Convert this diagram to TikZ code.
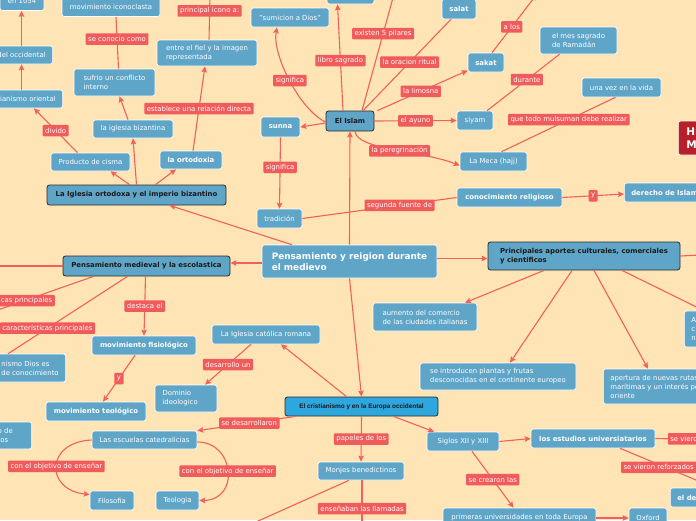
\documentclass[tikz,border=0pt]{standalone}
\usepackage{fontspec}
\setmainfont{DejaVu Sans}
\newfontfamily\arialfont{Liberation Sans}
\usepackage{tikz}
\usetikzlibrary{arrows.meta}
\definecolor{mapbg}{HTML}{FFE4B5}
\definecolor{topicblue}{HTML}{5FA5C8}
\definecolor{tagred}{HTML}{F05B5B}
\definecolor{linkred}{HTML}{F2605E}
\definecolor{mainblue}{HTML}{2EA6DE}
\definecolor{darkred}{HTML}{B71F2B}
\definecolor{edgegray}{HTML}{2A2A2A}
\newcommand{\smalltxt}{\fontsize{6.9}{9}\selectfont}

\begin{document}
\begin{tikzpicture}[x=1pt, y=-1pt,
  boxsize/.style 2 args={minimum width=#1pt, minimum height=#2pt},
  topic/.style={rectangle, rounded corners=2.5pt, fill=topicblue, draw=white, line width=0.6pt,
    text=white, font=\smalltxt, align=left, inner xsep=7pt, inner ysep=2pt},
  topicbold/.style={topic, font=\smalltxt\bfseries},
  branch/.style={topic, draw=edgegray, line width=0.8pt, text=black!90, font=\smalltxt\bfseries},
  tag/.style={rectangle, rounded corners=1pt, fill=tagred, text=white, font=\smalltxt,
    inner xsep=2.5pt, inner ysep=1.5pt, minimum height=11.5pt},
  arrowlink/.style={draw=linkred, line width=1.1pt, -{Stealth[length=6pt, width=5.5pt, inset=1pt]}},
  barelink/.style={draw=linkred, line width=1.1pt}]
  \useasboundingbox (0,0) rectangle (696,520);
  \fill[mapbg] (0,0) rectangle (696,520);
  \clip (0,0) rectangle (696,520);

  % iglesia bizantina
  \node[topic, boxsize={44}{19}] (anio) at (22,1) {en 1054};
  \node[topic, anchor=east, minimum height=18pt] (occid) at (53,55) {del occidental};
  \node[topic, anchor=east, minimum height=18pt] (orient) at (63,99) {ianismo oriental};
  \node[topic, boxsize={98}{19}] (icono) at (111,7) {movimiento iconoclasta};
  \node[topic, boxsize={81}{27}] (conflicto) at (114.5,82.5) {sufrio un conflicto\\interno};
  \node[topic, boxsize={80}{18}] (igbiz) at (133,129) {la iglesia bizantina};
  \node[topic, boxsize={79}{18}] (cisma) at (90.5,162) {Producto de cisma};
  \node[topicbold, boxsize={62}{18}] (orto) at (191,160) {la ortodoxia};
  \node[topic, boxsize={100}{26}] (fiel) at (207,53) {entre el fiel y la imagen\\representada};
  \node[branch, boxsize={179}{20}] (bizantino) at (136.5,195) {La Iglesia ortodoxa y el imperio bizantino};

  % islam
  \node[topic, boxsize={78}{19}] (sumision) at (290,17.5) {"sumicion a Dios"};
  \node[topic, boxsize={47}{20}] (coran) at (350.5,-6) {};
  \node[branch, boxsize={48}{20}] (islam) at (350,121) {El Islam};
  \node[topicbold, boxsize={39}{20}] (sunna) at (280.5,127) {sunna};
  \node[topic, boxsize={45}{19}] (tradicion) at (279.5,218.5) {tradición};
  \node[topicbold, boxsize={34}{20}] (salat) at (459,9) {salat};
  \node[topicbold, boxsize={36}{19}] (sakat) at (486,62.5) {sakat};
  \node[topic, boxsize={77}{27}] (ramadan) at (578.5,40.5) {el mes sagrado\\de Ramadán};
  \node[topic, boxsize={36}{19}] (siyam) at (475,120.5) {siyam};
  \node[topic, boxsize={79}{19}] (vida) at (621.5,87.5) {una vez en la vida};
  \node[topic, boxsize={67}{19}] (meca) at (493.5,161.5) {La Meca (hajj)};
  \node[topicbold, boxsize={105}{19}] (conoc) at (509.5,197.5) {conocimiento religioso};
  \node[topicbold, anchor=west, minimum height=19pt] (derecho) at (624,192.5) {derecho de Islam};
  \node[topic, fill=darkred, anchor=west, minimum height=34pt, inner xsep=8pt,
    font=\fontsize{10.5}{12.5}\selectfont\bfseries] (hima) at (678,138) {HI\\MA};

  % centro
  \node[topic, boxsize={175}{33}, font=\fontsize{8.9}{11}\selectfont\bfseries] (centro) at (349.5,261.5)
    {Pensamiento y reigion durante\\el medievo};
  \node[branch, boxsize={192}{28}] (principales) at (584,256) {Principales aportes culturales, comerciales\\y cientificos};
  \node[branch, boxsize={167}{20}] (medieval) at (146.5,266) {Pensamiento medieval y la escolastica};

  % escolastica
  \node[topicbold, boxsize={104}{19}] (fisio) at (144,345.5) {movimiento fisiológico};
  \node[topic, anchor=east, minimum height=28pt] (dios) at (66,368) {nismo Dios es\\de conocimiento};
  \node[topicbold, boxsize={100}{19}] (teo) at (96,411.5) {movimiento teológico};
  \node[topic, anchor=east, text width=27pt, minimum height=27pt] (ode) at (32,435.5) {o de\\tos};

  % europa occidental
  \node[topic, boxsize={108}{19}] (romana) at (266,334.5) {La Iglesia católica romana};
  \node[topic, boxsize={62}{27}, text width=47pt] (dominio) at (186,398.5) {Dominio\\ideologico};
  \node[topic, boxsize={105}{18}] (catedral) at (144.5,440) {Las escuelas catedralicias};
  \node[topic, boxsize={44}{19}] (filo) at (112,500.5) {Filosofia};
  \node[topic, boxsize={43}{19}] (teol) at (177.5,500.5) {Teologia};
  \node[branch, fill=mainblue, boxsize={153}{19}, font=\arialfont\fontsize{6.4}{8}\selectfont\bfseries]
    (cristiano) at (361.5,406.5) {El cristianismo y en la Europa occidental};
  \node[topic, boxsize={86}{18}] (monjes) at (361,471) {Monjes benedictinos};
  \node[topic, boxsize={72}{19}] (siglos) at (463,441.5) {Siglos XII y XIII};
  \node[topicbold, boxsize={124}{19}] (estudios) at (593,438.5) {los estudios universiatarios};
  \node[topic, boxsize={153}{20}] (primeras) at (519.5,518) {primeras universidades en toda Europa};
  \node[topic, boxsize={38}{20}] (oxford) at (648,518) {Oxford};
  \node[topicbold, anchor=west, minimum height=19pt] (elde) at (670,497.5) {el de};

  % aportes
  \node[topic, boxsize={104}{28}] (aumento) at (425,317) {aumento del comercio\\de las ciudades italianas};
  \node[topic, boxsize={156}{27}] (plantas) at (498,376.5) {se introducen plantas y frutas\\desconocidas en el continente europeo};
  \node[topic, anchor=west, minimum height=35pt] (apertura) at (603,386.5)
    {apertura de nuevas rutas\\marítimas y un interés por\\oriente};
  \node[topic, anchor=west, minimum height=36pt] (rightA) at (684,329) {A\\c\\n};

  % free ends
  \coordinate (pilares) at (394,-6);
  \coordinate (iconoA) at (210,-6);
  \coordinate (losA) at (537,-6);
  \coordinate (izq) at (-8,266);
  \coordinate (ticasfin) at (-45,325);
  \coordinate (abajoA) at (238,530);
  \coordinate (abajoB) at (362,532);
  \coordinate (derA) at (720,440);
  \coordinate (derB) at (720,490);
  \coordinate (derC) at (720,254);

  % connectors from the centre
  \draw[arrowlink] ([xshift=-57.5pt]centro.north) -- ([xshift=33pt]bizantino.south);
  \draw[arrowlink] (centro.north) -- (islam.south);
  \draw[arrowlink] ([yshift=-1.5pt]centro.west) -- ([yshift=3pt]medieval.east);
  \draw[arrowlink] ([yshift=3pt]centro.east) -- ([yshift=-2.5pt]principales.west);
  \draw[arrowlink] (centro.south) -- (cristiano.north);

  % bizantina
  \draw[arrowlink] ([xshift=-7pt]bizantino.north) -- ([xshift=20pt]cisma.south);
  \draw[arrowlink] (bizantino.north) -- (igbiz.south);
  \draw[arrowlink] ([xshift=19pt]bizantino.north) -- ([xshift=-15pt]orto.south);
  \draw[arrowlink] ([xshift=-13pt]cisma.north) -- node[tag] {divido} ([xshift=6pt]orient.south);
  \draw[arrowlink] (occid.south |- orient.north) -- (occid.south);
  \draw[arrowlink] (occid.north) -- (occid.north |- anio.south);
  \draw[arrowlink] ([xshift=-5pt]igbiz.north) -- ([xshift=5pt]conflicto.south);
  \draw[barelink] ([xshift=4pt]conflicto.north) -- node[tag, pos=0.57] {se conocio como} ([xshift=5pt]icono.south);
  \draw[arrowlink] ([xshift=2pt]orto.north) -- node[tag] {establece una relación directa} ([xshift=-2pt]fiel.south);
  \draw[arrowlink] ([xshift=2pt]fiel.north) -- node[tag, pos=0.63] {principal icono a:} (iconoA);

  % islam
  \draw[arrowlink] ([yshift=-2pt]islam.west) -- (sunna.east);
  \draw[arrowlink] (sunna.south) -- node[tag, pos=0.42] {significa} (tradicion.north);
  \draw[arrowlink] ([yshift=-1pt]islam.west) .. controls (300,110) and (272,55) ..
    node[tag, pos=0.5] {significa} ([xshift=-13pt]sumision.south);
  \draw[arrowlink] ([xshift=-7pt]islam.north) -- node[tag, pos=0.47] {libro sagrado} ([xshift=-13pt]coran.south);
  \draw[arrowlink] ([xshift=12pt]islam.north) -- node[tag, pos=0.66] {existen 5 pilares} (pilares);
  \draw[barelink] ([xshift=13pt]islam.north) -- node[tag, pos=0.53] {la oracion ritual} ([xshift=-8pt]salat.south);
  \draw[arrowlink] ([xshift=3pt]islam.north east) -- node[tag, pos=0.48] {la limosna} ([yshift=-8pt]sakat.west);
  \draw[arrowlink] (islam.east) -- node[tag] {el ayuno} (siyam.west);
  \draw[arrowlink] ([xshift=5pt]islam.south) .. controls (357,150) and (420,150) ..
    node[tag, pos=0.55] {la peregrinación} ([yshift=-4pt]meca.west);
  \draw[arrowlink] ([xshift=6pt]sakat.north) -- node[tag, pos=0.44] {a los} (losA);
  \draw[barelink] ([xshift=12pt]siyam.north) -- node[tag, pos=0.55] {durante} ([xshift=-19pt]ramadan.south);
  \draw[barelink] ([xshift=8pt]meca.north) -- node[tag, pos=0.59] {que todo mulsuman debe realizar} ([xshift=-6pt]vida.south);
  \draw[barelink] (tradicion.east) -- node[tag, pos=0.63] {segunda fuente de} (conoc.west);
  \draw[arrowlink] (conoc.east) -- node[tag] {y} ([yshift=-1.5pt]derecho.west);

  % escolastica
  \draw[arrowlink] (medieval.west) -- (izq);
  \draw[barelink] ([xshift=-53pt]medieval.south) -- node[tag] {ticas principales} (ticasfin);
  \draw[barelink] ([xshift=-19pt]medieval.south) -- node[tag, pos=0.67] {características principales} ([xshift=-22pt]dios.north);
  \draw[arrowlink] ([xshift=-1pt]medieval.south) -- node[tag] {destaca el} (fisio.north);
  \draw[arrowlink] ([xshift=-9pt]fisio.south) -- node[tag] {y} ([xshift=7pt]teo.north);

  % europa occidental
  \draw[arrowlink] ([xshift=-15pt]cristiano.north) -- ([xshift=15pt]romana.south);
  \draw[arrowlink] ([xshift=-15pt]romana.south) -- node[tag] {desarrollo un} ([xshift=19pt]dominio.north);
  \draw[arrowlink] ([xshift=-66pt]cristiano.south) -- node[tag, pos=0.47] {se desarrollaron} (catedral.north east);
  \draw[arrowlink] (catedral.west) .. controls (45,442) and (45,490) ..
    node[tag, pos=0.5] {con el objetivo de enseñar} ([yshift=6pt]filo.west);
  \draw[arrowlink] ([yshift=-2pt]catedral.east) .. controls (235,442) and (240,500) ..
    node[tag, pos=0.5] {con el objetivo de enseñar} (teol.east);
  \draw[arrowlink] (cristiano.south) -- node[tag] {papeles de los} (monjes.north);
  \draw[barelink] ([xshift=-12pt]monjes.south) -- (abajoA);
  \draw[barelink] ([xshift=1pt]monjes.south) -- node[tag, pos=0.55] {enseñaban las llamadas} (abajoB);
  \draw[arrowlink] ([xshift=32pt]cristiano.south) -- ([xshift=-29pt]siglos.north);
  \draw[arrowlink] (siglos.east) -- (estudios.west);
  \draw[arrowlink] ([xshift=9pt]siglos.south) -- node[tag] {se crearon las} ([xshift=-6pt]primeras.north);
  \draw[arrowlink] (primeras.east) -- (oxford.west);
  \draw[barelink] (estudios.east) -- node[tag, anchor=west, pos=0.185] {se vieron} (derA);
  \draw[barelink] ([xshift=27pt]estudios.south) -- node[tag, pos=0.455] {se vieron reforzados por} (derB);

  % aportes
  \draw[arrowlink] ([xshift=-40pt]principales.south) -- ([xshift=40pt]aumento.north);
  \draw[arrowlink] ([xshift=-12pt]principales.south) -- ([xshift=12pt]plantas.north);
  \draw[arrowlink] ([xshift=10pt]principales.south) -- ([xshift=45pt]apertura.north west);
  \draw[arrowlink] ([xshift=38pt]principales.south) -- ([xshift=20pt]rightA.north west);
  \draw[barelink] (principales.east) -- (derC);
\end{tikzpicture}
\end{document}
